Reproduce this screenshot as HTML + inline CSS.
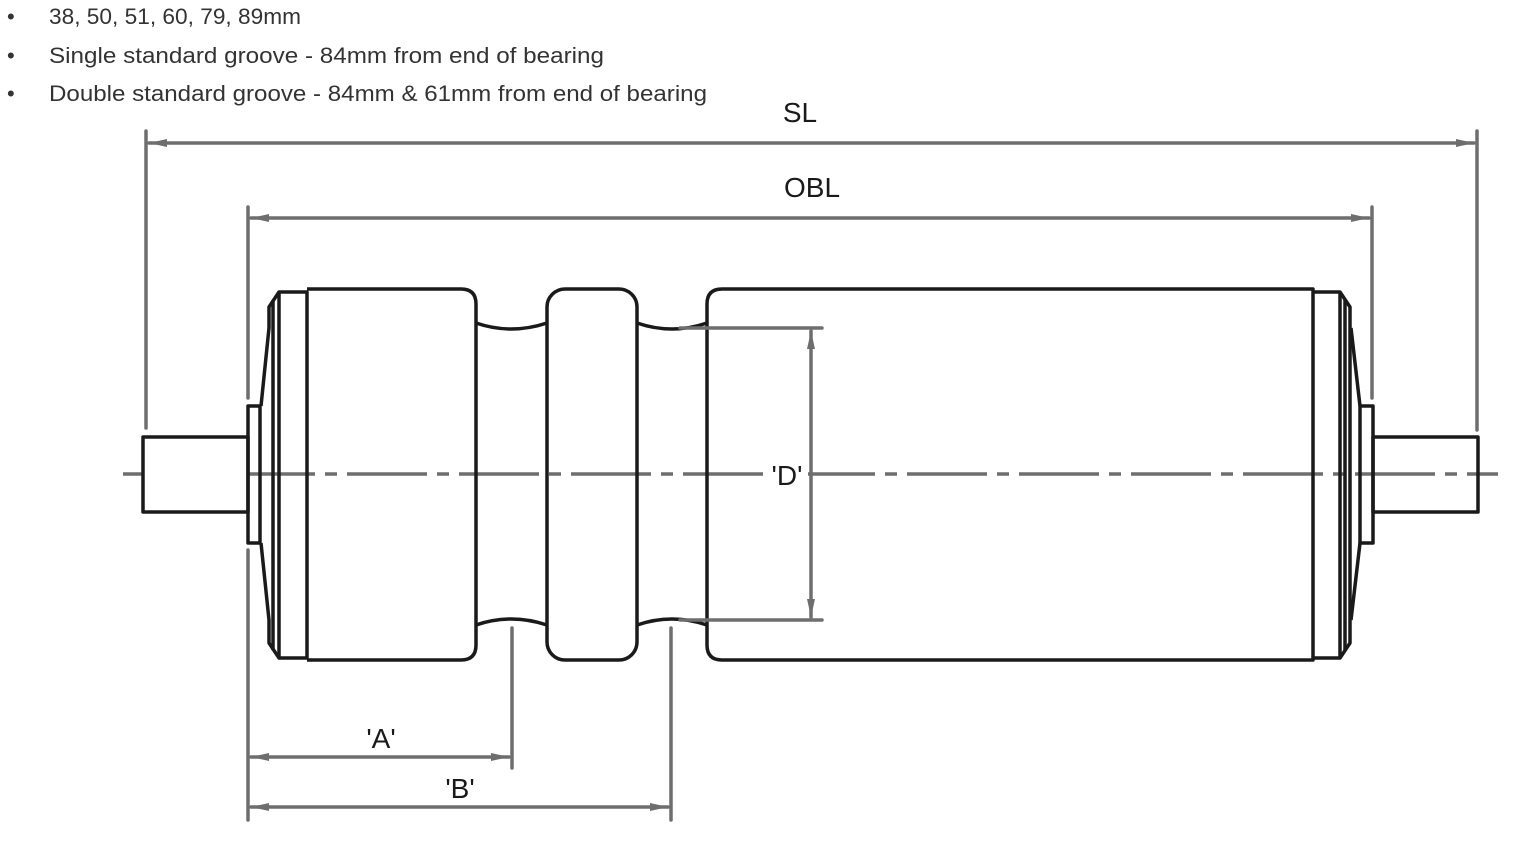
<!DOCTYPE html>
<html><head><meta charset="utf-8"><style>
html,body{margin:0;padding:0;background:#fff;}
svg{display:block;}
</style></head><body>
<svg width="1520" height="842" viewBox="0 0 1520 842" xmlns="http://www.w3.org/2000/svg">
<defs>
<marker id="ar" markerWidth="20" markerHeight="10" refX="18" refY="5" orient="auto-start-reverse" markerUnits="userSpaceOnUse">
<path d="M0,1 L18,5 L0,9 Z" fill="#6e6e6e"/>
</marker>
</defs>
<g font-family="'Liberation Sans', sans-serif" font-size="22" fill="#333">
<text x="7" y="24">•</text>
<text x="7" y="63">•</text>
<text x="7" y="101">•</text>
<text x="49" y="24" textLength="252" lengthAdjust="spacingAndGlyphs">38, 50, 51, 60, 79, 89mm</text>
<text x="49" y="63" textLength="555" lengthAdjust="spacingAndGlyphs">Single standard groove - 84mm from end of bearing</text>
<text x="49" y="101" textLength="658" lengthAdjust="spacingAndGlyphs">Double standard groove - 84mm &amp; 61mm from end of bearing</text>
</g>
<!-- centerline -->
<line x1="123" y1="474" x2="1498" y2="474" stroke="#6e6e6e" stroke-width="3.5" stroke-dasharray="80 10 12 10"/>
<!-- roller body -->
<g fill="none" stroke="#1a1a1a" stroke-width="3.5" stroke-linejoin="round">
<rect x="143" y="437" width="105" height="75" fill="#fff"/>
<rect x="248" y="406" width="12" height="137"/>
<path d="M261,406 L269,328 L269,307 L279,292 L307,292 L307,658 L279,658 L269,643 L269,620 L261,543"/>
<line x1="273" y1="300" x2="273" y2="650"/>
<line x1="279" y1="292" x2="279" y2="658"/>
<path d="M307,289 L461,289 Q476,289 476,304 L476,645 Q476,660 461,660 L307,660"/>
<path d="M476,323 Q511,335 547,323 M476,625 Q511,613 547,625"/>
<rect x="547" y="289" width="90" height="371" rx="18"/>
<path d="M637,323 Q672,335 707,323 M637,625 Q672,613 707,625"/>
<path d="M1313,289 L722,289 Q707,289 707,304 L707,645 Q707,660 722,660 L1313,660 Z"/>
<path d="M1313,292 L1340,292 L1350,307 L1350,643 L1340,658 L1313,658"/>
<line x1="1340" y1="292" x2="1340" y2="658"/>
<line x1="1345" y1="300" x2="1345" y2="650"/>
<path d="M1351,328 L1360,406 M1351,620 L1360,543"/>
<rect x="1360" y="406" width="13" height="137"/>
<rect x="1373" y="437" width="105" height="75"/>
</g>
<!-- dimensions -->
<g stroke="#6e6e6e" stroke-width="3.5" fill="none" stroke-linecap="round">
<line x1="146" y1="131" x2="146" y2="428"/>
<line x1="1477" y1="131" x2="1477" y2="430"/>
<line x1="149" y1="143" x2="1474" y2="143" marker-start="url(#ar)" marker-end="url(#ar)"/>
<line x1="248" y1="207" x2="248" y2="398"/>
<line x1="1372" y1="207" x2="1372" y2="398"/>
<line x1="251" y1="218" x2="1369" y2="218" marker-start="url(#ar)" marker-end="url(#ar)"/>
<line x1="248" y1="550" x2="248" y2="820"/>
<line x1="512" y1="628" x2="512" y2="768"/>
<line x1="671" y1="628" x2="671" y2="820"/>
<line x1="251" y1="757" x2="509" y2="757" marker-start="url(#ar)" marker-end="url(#ar)"/>
<line x1="251" y1="807" x2="668" y2="807" marker-start="url(#ar)" marker-end="url(#ar)"/>
<line x1="680" y1="328" x2="822" y2="328"/>
<line x1="680" y1="620" x2="822" y2="620"/>
<line x1="811" y1="331" x2="811" y2="617" marker-start="url(#ar)" marker-end="url(#ar)"/>
</g>
<rect x="766" y="458" width="42" height="32" fill="#fff"/>
<g font-family="'Liberation Sans', sans-serif" font-size="28" fill="#1a1a1a" text-anchor="middle">
<text x="800" y="122">SL</text>
<text x="812" y="197">OBL</text>
<text x="787" y="485">'D'</text>
<text x="381" y="748">'A'</text>
<text x="460" y="798">'B'</text>
</g>
</svg>
</body></html>
